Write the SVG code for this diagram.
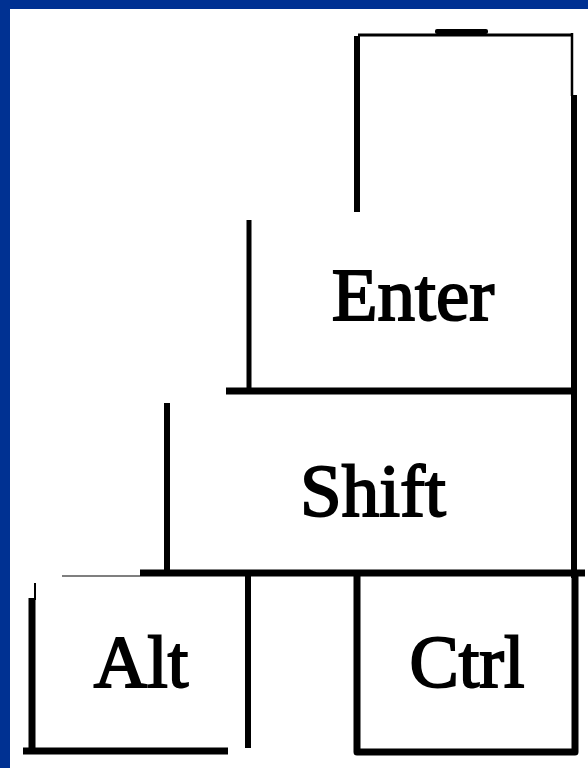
<svg xmlns="http://www.w3.org/2000/svg" width="588" height="768" viewBox="0 0 588 768">
<style>
.k{stroke:#000;fill:none;stroke-linecap:butt;stroke-linejoin:round}
.t{font-family:"Liberation Serif","Times New Roman",serif;font-size:75px;fill:#000;stroke:#000;stroke-width:2;text-anchor:middle}
</style>
<rect width="588" height="768" fill="#ffffff"/>
<rect x="0" y="0" width="588" height="9" fill="#003192"/>
<rect x="0" y="0" width="10" height="768" fill="#003192"/>
<g id="enter">
  <path class="k" d="M358 35 H573" stroke-width="3"/>
  <rect x="435" y="29" width="53" height="5" rx="2" fill="#000"/>
  <path class="k" d="M357 36 V212" stroke-width="6"/>
  <path class="k" d="M572 33 V96" stroke-width="2.5"/>
  <path class="k" d="M574 95 V578" stroke-width="6"/>
  <path class="k" d="M249 220 V391" stroke-width="5"/>
  <path class="k" d="M226 391 H576" stroke-width="7"/>
  <text class="t" x="413" y="320">Enter</text>
</g>
<g id="shift">
  <path class="k" d="M167 403 V573" stroke-width="6"/>
  <path class="k" d="M140 573 H585" stroke-width="7"/>
  <path d="M62 576 H140" stroke="#555" stroke-width="1.5"/>
  <text class="t" x="373" y="516">Shift</text>
</g>
<g id="alt">
  <path class="k" d="M35 583 V600" stroke-width="2"/>
  <path class="k" d="M32 598 V753" stroke-width="7"/>
  <path class="k" d="M248 572 V748" stroke-width="6"/>
  <path class="k" d="M23 751 H228" stroke-width="7"/>
  <text class="t" x="141" y="687" style="font-size:74px">Alt</text>
</g>
<g id="ctrl">
  <path class="k" d="M357 572 V752 H575 V572" stroke-width="7"/>
  <text class="t" x="467" y="687" style="font-size:74px">Ctrl</text>
</g>
</svg>
